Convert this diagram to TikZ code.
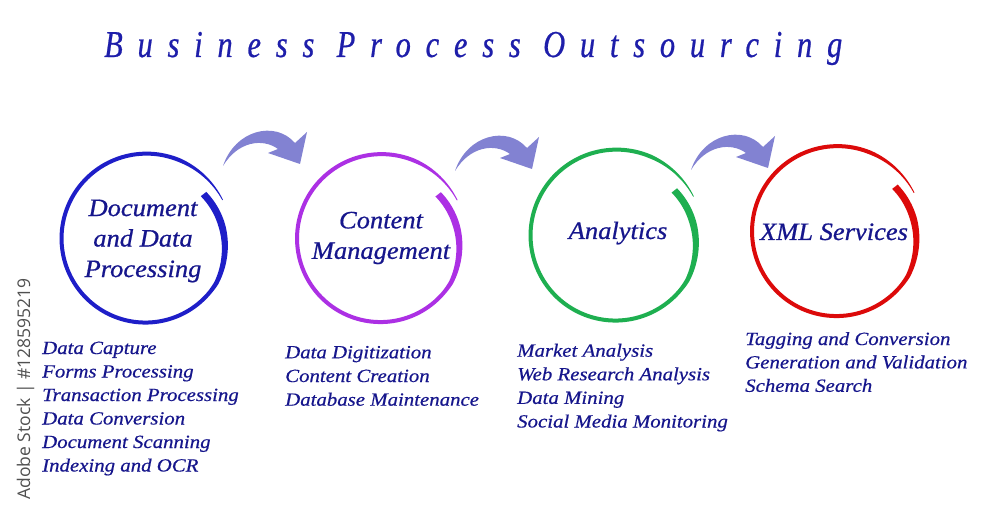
\documentclass[tikz,border=0pt]{standalone}
\usepackage{fontspec}
\setmainfont{Liberation Serif}
\newfontfamily\titlefont[FakeStretch=0.8,LetterSpace=39,FakeBold=0.6]{Liberation Serif}
\newfontfamily\labelfont[FakeStretch=1.06,FakeBold=0.7]{Liberation Serif}
\newfontfamily\itemfont[FakeStretch=1.12,FakeBold=0.5]{Liberation Serif}
\newfontfamily\markfont{Open Sans}
\definecolor{textnavy}{RGB}{22,22,140}
\definecolor{titleblue}{RGB}{30,30,170}
\definecolor{ringblue}{RGB}{30,30,200}
\definecolor{ringpurple}{RGB}{172,48,228}
\definecolor{ringgreen}{RGB}{30,175,80}
\definecolor{ringred}{RGB}{220,10,10}
\definecolor{arrowfill}{RGB}{130,130,210}
\definecolor{markgray}{RGB}{80,80,80}

% brush ring: #1 centre, #2 radius, #3 colour
\newcommand\brushring[3]{%
  \fill[#3, shift={(#1)}]
    plot[domain=27:398, samples=150]
      ({(#2+3-3*min(1,(\x-27)/300)-10*max(0,(\x-328)/70)+0.4+1.6*min(1,(\x-27)/40)+1.5*min(1,max(0,(\x-320)/50)))*cos(\x)},
       {-(#2+3-3*min(1,(\x-27)/300)-10*max(0,(\x-328)/70)+0.4+1.6*min(1,(\x-27)/40)+1.5*min(1,max(0,(\x-320)/50)))*sin(\x)})
    -- plot[domain=398:27, samples=150]
      ({(#2+3-3*min(1,(\x-27)/300)-10*max(0,(\x-328)/70)-0.4-1.6*min(1,(\x-27)/40)-1.5*min(1,max(0,(\x-320)/50)))*cos(\x)},
       {-(#2+3-3*min(1,(\x-27)/300)-10*max(0,(\x-328)/70)-0.4-1.6*min(1,(\x-27)/40)-1.5*min(1,max(0,(\x-320)/50)))*sin(\x)})
    -- cycle;}

% fat curved arrow starting at its tail #1
\newcommand\bentarrow[1]{%
  \fill[arrowfill, shift={(#1)}] (0,0) .. controls (12,-36) and (52,-46) .. (72,-23)
    -- (84,-34) -- (77,-2) -- (45,-13) -- (55,-17)
    .. controls (40,-28) and (15,-25) .. cycle;}

\begin{document}
\begin{tikzpicture}[x=1pt, y=-1pt,
  title/.style={anchor=base west, inner sep=0, text=titleblue,
    font=\titlefont\itshape\fontsize{38}{40}\selectfont},
  label/.style={inner sep=0, align=center, text=textnavy,
    font=\labelfont\itshape\fontsize{25}{30.5}\selectfont},
  item/.style={anchor=base west, inner sep=0, text=textnavy,
    font=\itemfont\itshape\fontsize{18.6}{23.5}\selectfont}]
\useasboundingbox[fill=white] (0,0) rectangle (1000,510);

% title
\node[title] (title) at (104,57) {Business Process Outsourcing};

% ring centres
\coordinate (docc) at (146,239);
\coordinate (contc) at (381,239);
\coordinate (anac) at (616,236);
\coordinate (xmlc) at (837,232);

% rings
\brushring{docc}{83}{ringblue}
\brushring{contc}{82.5}{ringpurple}
\brushring{anac}{84}{ringgreen}
\brushring{xmlc}{83.5}{ringred}

% arrows between rings
\coordinate (arrA) at (223,166);
\coordinate (arrB) at (455,171);
\coordinate (arrC) at (691,170);
\bentarrow{arrA}
\bentarrow{arrB}
\bentarrow{arrC}

% ring labels
\node[label] (doc) at (143,241) {Document\\and Data\\Processing};
\node[label] (cont) at (381,238) {Content\\Management};
\node[label, anchor=base] (ana) at (618,239) {Analytics};
\node[label, anchor=base] (xml) at (834,240) {XML Services};

% lists
\foreach \txt [count=\i] in {Data Capture, Forms Processing, Transaction Processing,
    Data Conversion, Document Scanning, Indexing and OCR}
  \node[item] (doc-\i) at (42,{354+23.5*(\i-1)}) {\txt};
\foreach \txt [count=\i] in {Data Digitization, Content Creation, Database Maintenance}
  \node[item] (cont-\i) at (285,{358.3+23.7*(\i-1)}) {\txt};
\foreach \txt [count=\i] in {Market Analysis, Web Research Analysis, Data Mining,
    Social Media Monitoring}
  \node[item] (ana-\i) at (517,{356.7+23.6*(\i-1)}) {\txt};
\foreach \txt [count=\i] in {Tagging and Conversion, Generation and Validation,
    Schema Search}
  \node[item] (xml-\i) at (745,{345+23.4*(\i-1)}) {\txt};

% side mark
\node[anchor=base west, rotate=90, inner sep=0, text=markgray,
  font=\markfont\fontsize{17.5}{20}\selectfont] (mark) at (30,500) {Adobe Stock | \#128595219};
\end{tikzpicture}
\end{document}
